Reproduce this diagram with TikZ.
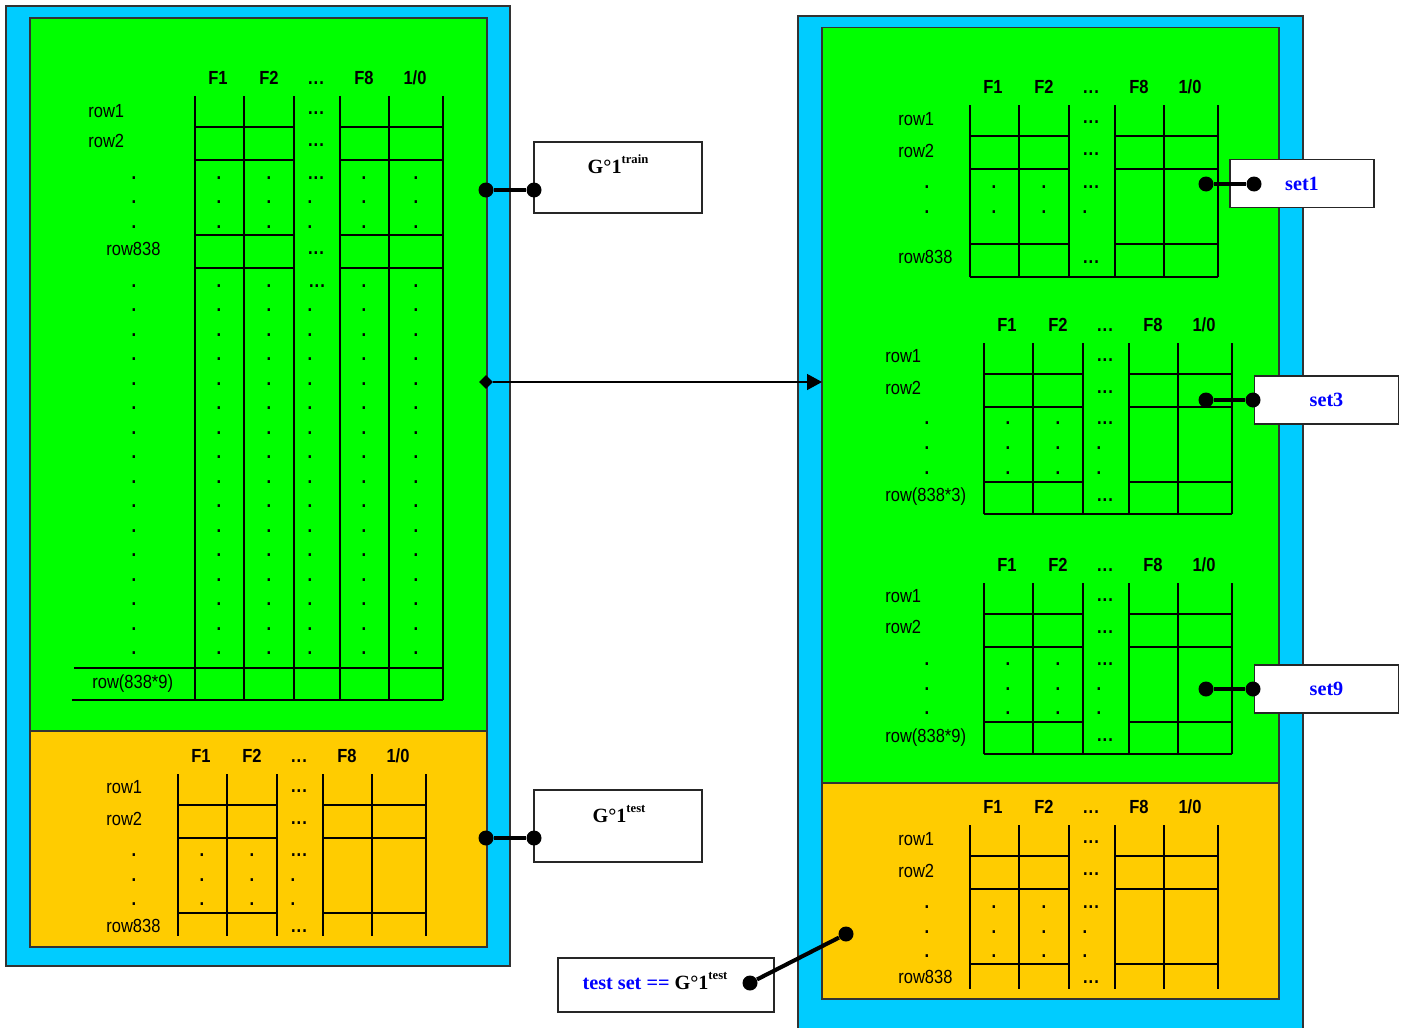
\documentclass[tikz,border=0pt]{standalone}
\usepackage{fontspec}
\setmainfont[FakeStretch=0.87]{Liberation Sans}
\newfontfamily\boxfont{Liberation Serif}
\usetikzlibrary{positioning, shapes.geometric, arrows.meta}

\definecolor{trainGreen}{HTML}{00FF00}
\definecolor{testOrange}{HTML}{FFCC00}
\definecolor{frameCyan}{HTML}{00CCFF}
\definecolor{setBlue}{HTML}{0000FF}

\newcommand{\tabsize}{\fontsize{10.8}{12}\selectfont}
\newcommand{\ddd}{.\kern0.6pt.\kern0.6pt.}
\newcommand{\clshd}{1/0}
\newcommand{\upidx}[1]{\raisebox{5.5pt}{\fontsize{7.2}{8}\selectfont #1}}

% table: prefix, left x, top y, bottom y, x of row dots, offsets of skipped rows
\newcommand{\settable}[6]{%
  \foreach \dx/\hd [count=\i] in {23/F1,74/F2,121/\ddd,169/F8,220/\clshd}
    \node[head] (#1h\i) at (#2+\dx,#3-12) {\hd};
  \foreach \dx in {0,49,99,145,194,248}
    \draw[tline] (#2+\dx,#3) -- (#2+\dx,#4);
  \foreach \dy in {31,64,139} {
    \draw[tline] (#2,#3+\dy) -- (#2+99,#3+\dy);
    \draw[tline] (#2+145,#3+\dy) -- (#2+248,#3+\dy);
  }
  \node[gap] (#1e1) at (#2+121,#3+17) {\ddd};
  \node[gap] (#1e2) at (#2+121,#3+49) {\ddd};
  \node[gap] (#1e3) at (#2+121,#3+157) {\ddd};
  \foreach \dy [count=\k] in {#6} {
    \node[gap] (#1a\k) at (#5,#3+\dy) {.};
    \node[gap] (#1b\k) at (#2+24,#3+\dy) {.};
    \node[gap] (#1c\k) at (#2+74,#3+\dy) {.};
    \ifnum\k=1 \node[gap] (#1d\k) at (#2+121,#3+\dy) {\ddd};
    \else \node[gap] (#1d\k) at (#2+115,#3+\dy) {.};\fi
  }%
}

\begin{document}
\begin{tikzpicture}[x=0.02cm, y=-0.02cm,
  frame/.style={draw=black!80, line width=0.9pt, inner sep=0pt, outer sep=0pt},
  tline/.style={line width=1.3pt},
  head/.style={font=\bfseries\tabsize, inner sep=0pt, anchor=base},
  gap/.style={font=\bfseries\tabsize, inner sep=0pt},
  rowlbl/.style={font=\tabsize, inner sep=0pt, anchor=base west},
  outbox/.style={draw=black!85, fill=white, line width=1pt},
  setbox/.style={outbox, minimum width=2.88cm, minimum height=0.96cm, text=setBlue,
    font=\boxfont\bfseries\fontsize{11.5}{13}\selectfont},
  boxtxt/.style={font=\boxfont\bfseries\fontsize{11.5}{13}\selectfont, inner sep=0pt, anchor=base},
  knob/.style={circle, fill, inner sep=0pt, minimum size=0.3cm},
  wire/.style={line width=2.3pt},
  split/.style={diamond, fill, inner sep=0pt, minimum size=0.28cm},
  flow/.style={line width=0.7pt, -{Triangle[length=0.3cm, width=0.32cm]}}]
\useasboundingbox (0,0) rectangle (1407,1028);

% left frame
\node[frame, fill=frameCyan, minimum width=10.08cm, minimum height=19.2cm] (lframe) at (258,486) {};
\node[frame, fill=trainGreen, minimum width=9.14cm, minimum height=14.26cm] (lgreen) at (258.5,374.5) {};
\node[frame, fill=testOrange, minimum width=9.14cm, minimum height=4.32cm] (lorange) at (258.5,839) {};

% right frame, runs off the bottom
\fill[frameCyan] (798,16) rectangle (1303,1028);
\draw[frame] (798,1028) |- (1303,16) -- (1303,1028);
\node[frame, fill=trainGreen, minimum width=9.14cm, minimum height=15.11cm] (rgreen) at (1050.5,405.25) {};
\node[frame, fill=testOrange, minimum width=9.14cm, minimum height=4.32cm] (rorange) at (1050.5,891) {};

% left green table
\settable{lg}{195}{96}{700}{134}{82,106,131}
\draw[tline] (195,268) -- (294,268);
\draw[tline] (340,268) -- (443,268);
\draw[tline] (74,668) -- (443,668);
\draw[tline] (72,700) -- (443,700);
\foreach \y [count=\k] in {178,202,227} {
  \node[gap] (lgp\k) at (364,\y) {.};
  \node[gap] (lgq\k) at (416,\y) {.};
}
\foreach \y [count=\k] in {286,310.5,...,654} {
  \node[gap] (lgs\k) at (134,\y) {.};
  \node[gap] (lgu\k) at (219,\y) {.};
  \node[gap] (lgv\k) at (269,\y) {.};
  \ifnum\k=1 \node[gap] (lgw\k) at (317,\y) {\ddd};
  \else \node[gap] (lgw\k) at (310,\y) {.};\fi
  \node[gap] (lgx\k) at (364,\y) {.};
  \node[gap] (lgy\k) at (416,\y) {.};
}
\node[rowlbl] (lgr1) at (88,117) {row1};
\node[rowlbl] (lgr2) at (88,147) {row2};
\node[rowlbl] (lgr3) at (106,255) {row838};
\node[rowlbl] (lgr4) at (92,688) {row(838*9)};

% left orange table
\settable{lo}{178}{774}{936}{134}{81,106,130}
\node[rowlbl] (lor1) at (106,793) {row1};
\node[rowlbl] (lor2) at (106,825) {row2};
\node[rowlbl] (lor3) at (106,932) {row838};

% right tables
\settable{ta}{970}{105}{277}{927}{82,107}
\draw[tline] (970,277) -- (1218,277);
\node[rowlbl] (tar1) at (898,125) {row1};
\node[rowlbl] (tar2) at (898,157) {row2};
\node[rowlbl] (tar3) at (898,263) {row838};

\settable{tb}{984}{343}{514}{927}{80,105,130}
\draw[tline] (984,514) -- (1232,514);
\node[rowlbl] (tbr1) at (885,362) {row1};
\node[rowlbl] (tbr2) at (885,394) {row2};
\node[rowlbl] (tbr3) at (885,501) {row(838*3)};

\settable{tc}{984}{583}{754}{927}{81,106,130}
\draw[tline] (984,754) -- (1232,754);
\node[rowlbl] (tcr1) at (885,602) {row1};
\node[rowlbl] (tcr2) at (885,633) {row2};
\node[rowlbl] (tcr3) at (885,742) {row(838*9)};

\settable{td}{970}{825}{989}{927}{82,107,131}
\node[rowlbl] (tdr1) at (898,845) {row1};
\node[rowlbl] (tdr2) at (898,877) {row2};
\node[rowlbl] (tdr3) at (898,983) {row838};

% train set goes over to the folds
\node[split] (fork) at (486,382) {};
\draw[flow] (fork) -- (fork -| rgreen.west);

% outside boxes
\node[outbox, minimum width=3.36cm, minimum height=1.42cm] (trainbox) at (618,177.5) {};
\node[boxtxt] (traintxt) at (618,173) {G°1\upidx{train}};
\node[outbox, minimum width=3.36cm, minimum height=1.44cm] (testbox) at (618,826) {};
\node[boxtxt] (testtxt) at (619,822) {G°1\upidx{test}};
\node[outbox, minimum width=4.32cm, minimum height=1.08cm] (tsbox) at (666,985) {};
\node[boxtxt] (tstxt) at (655,989) {{\color{setBlue}test set ==} G°1\upidx{test}};
\node[setbox] (set1) at (1302,183.5) {set1};
\node[setbox] (set3) at (1326.5,400) {set3};
\node[setbox] (set9) at (1326.5,689) {set9};

% pins and wires
\node[knob] (trainA) at (486,190) {};
\node[knob] (trainB) at (534,190) {};
\node[knob] (testA) at (486,838) {};
\node[knob] (testB) at (534,838) {};
\node[knob] (s1A) at (1206,184) {};
\node[knob] (s1B) at (1254,184) {};
\node[knob] (s3A) at (1206,400) {};
\node[knob] (s3B) at (1253,400) {};
\node[knob] (s9A) at (1206,689) {};
\node[knob] (s9B) at (1253,689) {};
\node[knob] (tsA) at (846,934) {};
\node[knob] (tsB) at (750,983) {};
\draw[wire] (trainA) -- (trainB);
\draw[wire] (testA) -- (testB);
\draw[wire] (s1A) -- (s1B);
\draw[wire] (s3A) -- (s3B);
\draw[wire] (s9A) -- (s9B);
\draw[wire] (tsA) -- (tsB);
\end{tikzpicture}
\end{document}
